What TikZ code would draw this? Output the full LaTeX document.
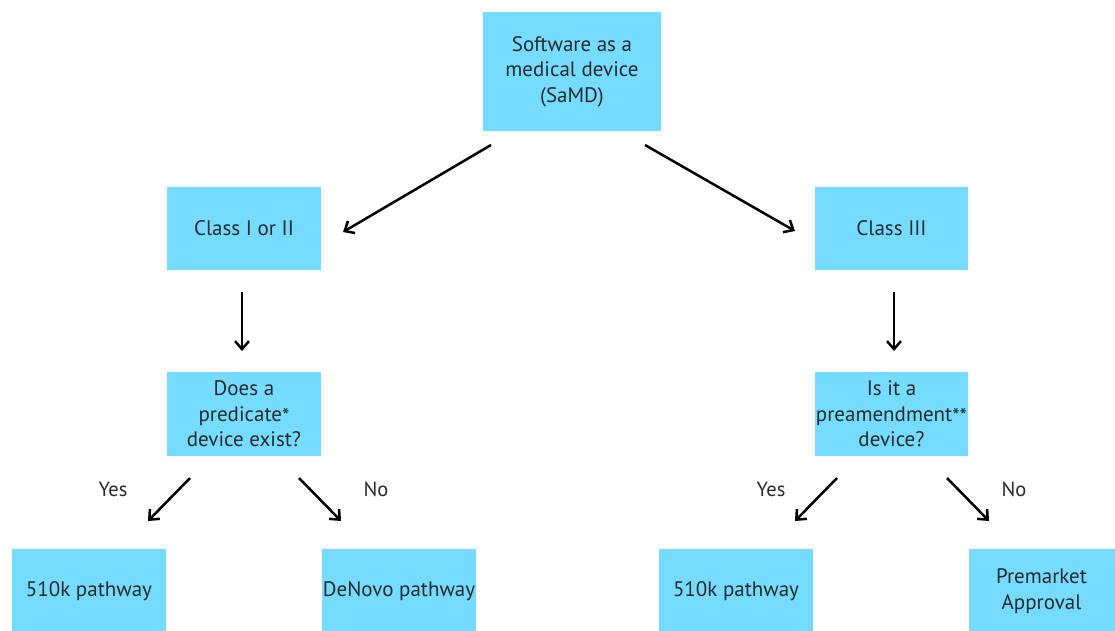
\documentclass[tikz,border=0pt]{standalone}
\usepackage{fontspec}
\setmainfont{PT Sans}
\usetikzlibrary{arrows.meta}
\definecolor{boxblue}{RGB}{117,220,255}
\definecolor{txt}{RGB}{40,42,44}
\tikzset{
  x=1pt, y=-1pt,
  box/.style={fill=boxblue, draw=none, inner sep=0pt, align=center, text=txt,
    font=\fontsize{21}{25.5}\selectfont},
  conn/.style={line width=2.5pt, draw=black, -{Straight Barb[length=8pt,width=14pt,line width=2.5pt]}},
  lab/.style={text=txt, font=\fontsize{20.5}{22}\selectfont}
}
\begin{document}
\begin{tikzpicture}
\path[use as bounding box, clip] (0,0) rectangle (1115,630);
\node[box, minimum width=178pt, minimum height=119pt] (top) at (572,71.5) {Software as a\\medical device\\(SaMD)};
\node[box, minimum width=154pt, minimum height=83pt] (c12) at (244,228.5) {Class I or II};
\node[box, minimum width=153pt, minimum height=83pt] (c3) at (891.5,228.5) {Class III};
\node[box, minimum width=154pt, minimum height=84pt] (pred) at (244,414) {Does a\\predicate\raisebox{-0.25ex}{*}\\device exist?};
\node[box, minimum width=153pt, minimum height=84pt] (pre) at (891.5,414) {Is it a\\preamendment\raisebox{-0.25ex}{**}\\device?};
\node[box, minimum width=154pt, minimum height=84pt] (k1) at (89,591) {510k pathway};
\node[box, minimum width=154pt, minimum height=84pt] (dn) at (399,591) {DeNovo pathway};
\node[box, minimum width=154pt, minimum height=84pt] (k2) at (736,591) {510k pathway};
\node[box, minimum width=154pt, minimum height=84pt, text width=150pt] (pma) at (1046,591) {\hspace*{-9pt}Premarket\\\hspace*{-9pt}Approval};
% connector ends
\coordinate (a1s) at (491,145); \coordinate (a1e) at (343,232);
\coordinate (a2s) at (645,145); \coordinate (a2e) at (795,231);
\coordinate (a3s) at (242,292); \coordinate (a3e) at (242,351);
\coordinate (a4s) at (894,292); \coordinate (a4e) at (894,351);
\coordinate (a5s) at (190,478); \coordinate (a5e) at (148,521);
\coordinate (a6s) at (299,478); \coordinate (a6e) at (341,521);
\coordinate (a7s) at (837,478); \coordinate (a7e) at (795,521);
\coordinate (a8s) at (947,478); \coordinate (a8e) at (989,521);
\draw[conn] (a1s) -- (a1e);
\draw[conn] (a2s) -- (a2e);
\draw[conn] (a3s) -- (a3e);
\draw[conn] (a4s) -- (a4e);
\draw[conn] (a5s) -- (a5e);
\draw[conn] (a6s) -- (a6e);
\draw[conn] (a7s) -- (a7e);
\draw[conn] (a8s) -- (a8e);
\node[lab] (y1) at (113,489) {Yes};
\node[lab] (n1) at (376,489) {No};
\node[lab] (y2) at (771,489) {Yes};
\node[lab] (n2) at (1014,489) {No};
\end{tikzpicture}
\end{document}
